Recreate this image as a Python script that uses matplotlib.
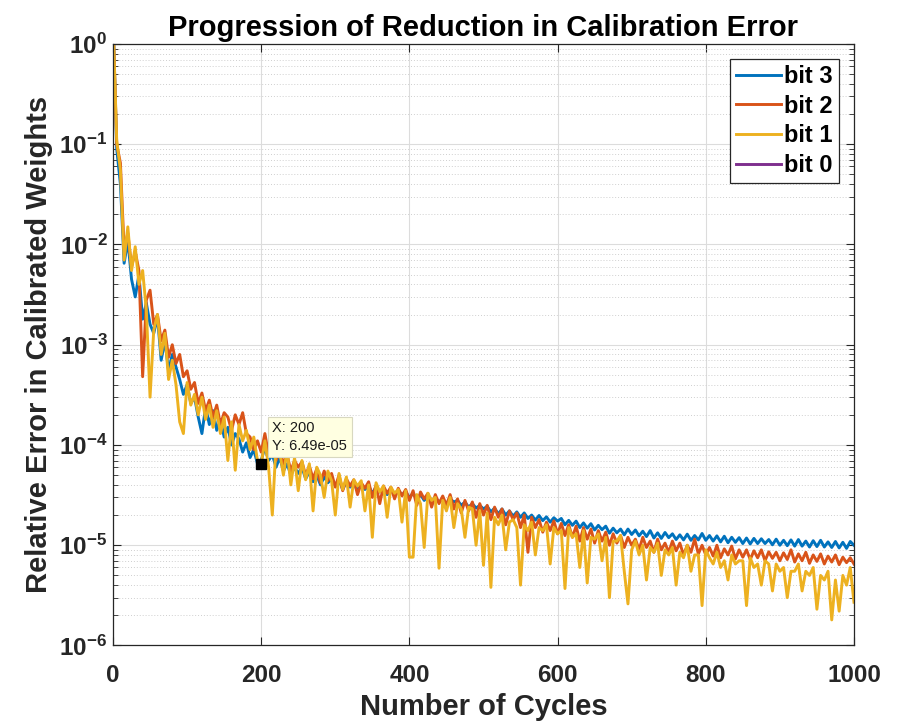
import numpy as np
import matplotlib
matplotlib.use("Agg")
import matplotlib.pyplot as plt

# global fonts: bold Arial-like text, bold mathtext for the 10^n tick labels
plt.rcParams['font.family'] = 'Liberation Sans'
plt.rcParams['font.weight'] = 'bold'
plt.rcParams['mathtext.fontset'] = 'custom'
plt.rcParams['mathtext.default'] = 'bf'
plt.rcParams['mathtext.bf'] = 'Liberation Sans:bold'
plt.rcParams['mathtext.rm'] = 'Liberation Sans:bold'

# ---- data (one sample every 5 cycles) ----
cycles = np.concatenate(([1], np.arange(5, 1001, 5)))

bit3_err = [1.0,
    9.0e-2, 4.0e-2, 6.5e-3, 1.1e-2, 4.5e-3, 3.0e-3, 5.0e-3, 1.8e-3, 2.6e-3, 1.6e-3,
    1.3e-3, 1.9e-3, 7.0e-4, 1.1e-3, 5.5e-4, 8.0e-4, 6.0e-4, 4.5e-4, 3.2e-4, 4.0e-4,
    2.6e-4, 3.0e-4, 1.9e-4, 1.3e-4, 2.4e-4, 1.6e-4, 2.2e-4, 1.4e-4, 1.8e-4, 1.2e-4,
    1.5e-4, 1.0e-4, 1.3e-4, 1.15e-4, 8.5e-5, 1.05e-4, 7.5e-5, 9.0e-5, 6.5e-5, 7.0e-5,
    9.5e-5, 7.0e-5, 8.0e-5, 6.0e-5, 7.5e-5, 5.5e-5, 6.5e-5, 5.0e-5, 6.0e-5, 5.2e-5,
    6.0e-5, 4.6e-5, 5.4e-5, 4.3e-5, 5.0e-5, 4.0e-5, 4.8e-5, 4.2e-5, 4.6e-5, 3.9e-5,
    4.5e-5, 3.6e-5, 4.3e-5, 3.8e-5, 4.2e-5, 3.5e-5, 4.0e-5, 3.6e-5, 3.9e-5, 3.3e-5,
    3.8e-5, 3.4e-5, 3.7e-5, 3.2e-5, 3.6e-5, 3.1e-5, 3.5e-5, 3.2e-5, 3.4e-5, 3.0e-5,
    3.3e-5, 2.9e-5, 3.2e-5, 2.8e-5, 3.1e-5, 2.8e-5, 3.0e-5, 2.7e-5, 2.9e-5, 2.6e-5,
    2.9e-5, 2.7e-5, 2.8e-5, 2.5e-5, 2.7e-5, 2.4e-5, 2.6e-5, 2.35e-5, 2.5e-5, 2.3e-5,
    2.45e-5, 2.15e-5, 2.35e-5, 2.05e-5, 2.3e-5, 2.0e-5, 2.2e-5, 1.95e-5, 2.15e-5, 1.9e-5,
    2.1e-5, 1.85e-5, 2.0e-5, 1.78e-5, 1.98e-5, 1.76e-5, 1.92e-5, 1.7e-5, 1.88e-5, 1.74e-5,
    1.85e-5, 1.6e-5, 1.77e-5, 1.58e-5, 1.74e-5, 1.5e-5, 1.67e-5, 1.48e-5, 1.64e-5, 1.42e-5,
    1.58e-5, 1.43e-5, 1.55e-5, 1.32e-5, 1.48e-5, 1.33e-5, 1.45e-5, 1.27e-5, 1.45e-5, 1.28e-5,
    1.42e-5, 1.24e-5, 1.38e-5, 1.22e-5, 1.4e-5, 1.18e-5, 1.33e-5, 1.17e-5, 1.34e-5, 1.19e-5,
    1.3e-5, 1.14e-5, 1.27e-5, 1.13e-5, 1.29e-5, 1.12e-5, 1.25e-5, 1.13e-5, 1.31e-5, 1.12e-5,
    1.25e-5, 1.1e-5, 1.24e-5, 1.08e-5, 1.23e-5, 1.06e-5, 1.2e-5, 1.07e-5, 1.19e-5, 1.04e-5,
    1.18e-5, 1.03e-5, 1.17e-5, 1.04e-5, 1.16e-5, 1.04e-5, 1.14e-5, 1.01e-5, 1.15e-5, 1.0e-5,
    1.12e-5, 9.9e-6, 1.13e-5, 9.8e-6, 1.14e-5, 9.8e-6, 1.1e-5, 9.6e-6, 1.11e-5, 9.7e-6,
    1.12e-5, 9.6e-6, 1.08e-5, 9.5e-6, 1.09e-5, 9.4e-6, 1.07e-5, 9.3e-6, 1.09e-5, 1.0e-5]

bit2_err = [1.0,
    1.0e-1, 6.5e-2, 9.0e-3, 1.3e-2, 6.0e-3, 8.5e-3, 5.5e-3, 4.8e-4, 2.8e-3, 3.5e-3,
    1.6e-3, 2.0e-3, 1.1e-3, 1.4e-3, 7.5e-4, 1.0e-3, 6.5e-4, 8.0e-4, 4.8e-4, 5.5e-4,
    3.6e-4, 4.2e-4, 2.6e-4, 3.3e-4, 2.2e-4, 2.8e-4, 1.9e-4, 2.5e-4, 1.6e-4, 2.1e-4,
    1.9e-4, 1.4e-4, 2.0e-4, 1.6e-4, 2.1e-4, 1.3e-4, 1.2e-4, 9.0e-5, 1.1e-4, 8.5e-5,
    1.3e-4, 8.0e-5, 1.0e-4, 7.0e-5, 9.0e-5, 6.5e-5, 8.0e-5, 5.5e-5, 7.0e-5, 6.0e-5,
    6.8e-5, 5.0e-5, 6.2e-5, 4.6e-5, 5.8e-5, 4.2e-5, 5.5e-5, 4.4e-5, 5.2e-5, 3.8e-5,
    5.0e-5, 3.5e-5, 4.6e-5, 3.9e-5, 4.5e-5, 3.2e-5, 4.2e-5, 3.7e-5, 4.3e-5, 3.0e-5,
    4.0e-5, 2.6e-5, 3.9e-5, 3.3e-5, 3.8e-5, 2.9e-5, 3.7e-5, 3.1e-5, 3.6e-5, 2.8e-5,
    3.5e-5, 2.5e-5, 3.4e-5, 2.9e-5, 3.3e-5, 2.4e-5, 3.2e-5, 2.6e-5, 3.1e-5, 2.5e-5,
    3.2e-5, 2.3e-5, 2.9e-5, 2.1e-5, 2.8e-5, 2.2e-5, 2.7e-5, 1.9e-5, 2.6e-5, 2.0e-5,
    2.5e-5, 1.8e-5, 2.4e-5, 1.9e-5, 2.3e-5, 1.6e-5, 2.2e-5, 1.8e-5, 2.1e-5, 1.5e-5,
    2.0e-5, 8.5e-6, 1.9e-5, 1.5e-5, 1.8e-5, 1.35e-5, 1.7e-5, 1.4e-5, 1.75e-5, 1.3e-5,
    1.65e-5, 1.25e-5, 1.6e-5, 1.2e-5, 1.55e-5, 1.1e-5, 1.5e-5, 1.15e-5, 1.45e-5, 1.05e-5,
    1.4e-5, 1.1e-5, 1.35e-5, 1.0e-5, 1.3e-5, 1.05e-5, 1.25e-5, 9.5e-6, 1.2e-5, 1.0e-5,
    1.15e-5, 9.0e-6, 1.2e-5, 9.5e-6, 1.1e-5, 8.5e-6, 1.15e-5, 9.0e-6, 1.05e-5, 8.5e-6,
    1.1e-5, 8.8e-6, 1.05e-5, 8.0e-6, 1.0e-5, 8.5e-6, 1.15e-5, 8.2e-6, 1.0e-5, 8.0e-6,
    9.5e-6, 7.8e-6, 1.0e-5, 7.5e-6, 9.2e-6, 8.0e-6, 9.8e-6, 7.3e-6, 9.0e-6, 7.6e-6,
    9.0e-6, 7.2e-6, 8.8e-6, 7.5e-6, 9.0e-6, 7.0e-6, 8.6e-6, 7.4e-6, 8.5e-6, 7.0e-6,
    8.4e-6, 7.2e-6, 9.0e-6, 6.8e-6, 8.2e-6, 7.0e-6, 8.5e-6, 6.6e-6, 8.0e-6, 6.9e-6,
    8.2e-6, 6.5e-6, 7.8e-6, 6.8e-6, 8.0e-6, 6.4e-6, 7.6e-6, 6.7e-6, 7.5e-6, 6.5e-6]

bit1_err = [1.0,
    1.1e-1, 5.5e-2, 7.0e-3, 1.5e-2, 5.5e-3, 9.5e-3, 4.0e-3, 5.5e-3, 2.2e-3, 3.0e-4,
    1.4e-3, 2.0e-3, 8.0e-4, 1.3e-3, 4.5e-4, 7.0e-4, 4.0e-4, 1.7e-4, 1.3e-4, 4.2e-4,
    2.5e-4, 3.2e-4, 2.0e-4, 3.0e-4, 1.8e-4, 2.5e-4, 1.5e-4, 2.2e-4, 1.3e-4, 1.9e-4,
    7.0e-5, 1.7e-4, 5.6e-5, 1.6e-4, 1.1e-4, 1.4e-4, 9.0e-5, 1.2e-4, 7.0e-5, 6.49e-5,
    1.1e-4, 6.0e-5, 2.0e-5, 1.0e-4, 8.5e-5, 5.0e-5, 9.0e-5, 4.0e-5, 7.5e-5, 3.5e-5,
    7.0e-5, 4.5e-5, 6.5e-5, 2.2e-5, 6.0e-5, 5.0e-5, 3.0e-5, 5.5e-5, 4.4e-5, 2.0e-5,
    5.2e-5, 3.6e-5, 4.8e-5, 2.4e-5, 4.5e-5, 3.9e-5, 4.4e-5, 2.2e-5, 4.0e-5, 1.2e-5,
    4.2e-5, 3.4e-5, 3.9e-5, 1.9e-5, 3.8e-5, 3.3e-5, 3.6e-5, 1.7e-5, 3.5e-5, 7.6e-6,
    7.6e-6, 3.2e-5, 2.6e-5, 9.5e-6, 3.3e-5, 2.8e-5, 3.0e-5, 5.9e-6, 2.8e-5, 2.2e-5,
    3.0e-5, 1.5e-5, 2.6e-5, 2.3e-5, 1.2e-5, 2.4e-5, 2.3e-5, 1.0e-5, 2.2e-5, 6.3e-6,
    2.1e-5, 3.8e-6, 1.9e-5, 1.6e-5, 2.0e-5, 9.0e-6, 1.7e-5, 1.8e-5, 1.5e-5, 4.0e-6,
    1.6e-5, 1.4e-5, 1.7e-5, 8.0e-6, 1.5e-5, 1.4e-5, 1.6e-5, 6.5e-6, 1.5e-5, 1.3e-5,
    1.4e-5, 3.7e-6, 1.5e-5, 1.2e-5, 1.3e-5, 6.0e-6, 1.4e-5, 4.2e-6, 1.2e-5, 1.15e-5,
    1.3e-5, 7.0e-6, 1.2e-5, 3.0e-6, 1.1e-5, 1.1e-5, 1.25e-5, 5.5e-6, 2.6e-6, 9.0e-6,
    1.1e-5, 8.0e-6, 1.0e-5, 4.5e-6, 9.5e-6, 8.5e-6, 1.05e-5, 5.0e-6, 9.0e-6, 8.0e-6,
    9.5e-6, 4.0e-6, 8.5e-6, 7.5e-6, 1.0e-5, 5.5e-6, 8.0e-6, 8.0e-6, 2.5e-6, 9.0e-6,
    7.5e-6, 6.5e-6, 8.5e-6, 6.0e-6, 7.0e-6, 4.5e-6, 8.0e-6, 6.5e-6, 7.0e-6, 7.0e-6,
    2.5e-6, 7.5e-6, 6.0e-6, 6.5e-6, 4.0e-6, 7.0e-6, 6.5e-6, 3.5e-6, 6.5e-6, 5.5e-6,
    6.0e-6, 3.0e-6, 5.5e-6, 5.5e-6, 6.5e-6, 3.5e-6, 5.5e-6, 5.0e-6, 6.0e-6, 2.3e-6,
    5.0e-6, 4.5e-6, 5.5e-6, 1.8e-6, 4.5e-6, 2.2e-6, 5.0e-6, 4.0e-6, 6.0e-6, 2.7e-6]

bit0_err = []   # listed in the legend, no visible trace

tip_cycle = 200
tip_value = 6.49e-05

series = [
    ('bit 3', bit3_err, '#0072BD'),
    ('bit 2', bit2_err, '#D95319'),
    ('bit 1', bit1_err, '#EDB120'),
    ('bit 0', bit0_err, '#7E2F8E'),
]

fig = plt.figure(figsize=(8.99, 7.26), dpi=100)
ax = fig.add_axes([0.1257, 0.1109, 0.8242, 0.8285])

for label, vals, color in series:
    ax.plot(cycles[:len(vals)], vals, color=color, lw=2.1, label=label)

ax.set_yscale('log')
ax.set_xlim(0, 1000)
ax.set_ylim(1e-6, 1)

ax.set_xticks(np.arange(0, 1001, 200))
ax.set_xticklabels([str(v) for v in range(0, 1001, 200)])
yt = [10.0 ** k for k in range(-6, 1)]
ax.set_yticks(yt)
ax.set_yticklabels([r'$10^{%d}$' % k for k in range(-6, 1)])

# MATLAB look: grid, inside ticks, box
ax.grid(True, which='major', color='#dcdcdc', lw=0.8, ls='-')
ax.grid(True, which='minor', axis='y', color='#cfcfcf', lw=0.7, ls=(0, (1, 2)))
ax.set_axisbelow(True)
ax.tick_params(which='both', direction='in', top=True, right=True, colors='#262626')
ax.tick_params(which='major', length=6, width=0.8, labelsize=17.5)
ax.tick_params(which='minor', length=3.5, width=0.6)
ax.tick_params(axis='x', which='major', pad=13)
ax.tick_params(axis='y', which='major', pad=4)
for sp in ax.spines.values():
    sp.set_color('#262626')
    sp.set_linewidth(0.9)

ax.set_title('Progression of Reduction in Calibration Error', fontsize=21,
             fontweight='bold', pad=6)
ax.set_xlabel('Number of Cycles', fontsize=21, fontweight='bold', color='#262626',
              labelpad=5)
ax.set_ylabel('Relative Error in Calibrated Weights', fontsize=21,
              fontweight='bold', color='#262626')

leg = ax.legend(loc='upper right', fontsize=17, handlelength=1.9,
                handletextpad=0.15, labelspacing=0.28, borderpad=0.25,
                borderaxespad=0.64, fancybox=False, framealpha=1,
                edgecolor='#262626')
leg.get_frame().set_linewidth(0.9)
for t in leg.get_texts():
    t.set_fontweight('bold')

# data tip
ax.plot([tip_cycle], [tip_value], 's', color='black', ms=7, zorder=5)
ax.annotate('X: %d\nY: %.2e' % (tip_cycle, tip_value), xy=(tip_cycle, tip_value),
            xytext=(8, 8), textcoords='offset points', ha='left', va='bottom',
            fontsize=10.5, fontweight='normal', color='#1a1a1a', linespacing=1.3,
            bbox=dict(boxstyle='square,pad=0.3', fc='#ffffe1', ec='#d8d8c0', lw=0.8),
            zorder=6)

fig.savefig('out.png', dpi=100)
